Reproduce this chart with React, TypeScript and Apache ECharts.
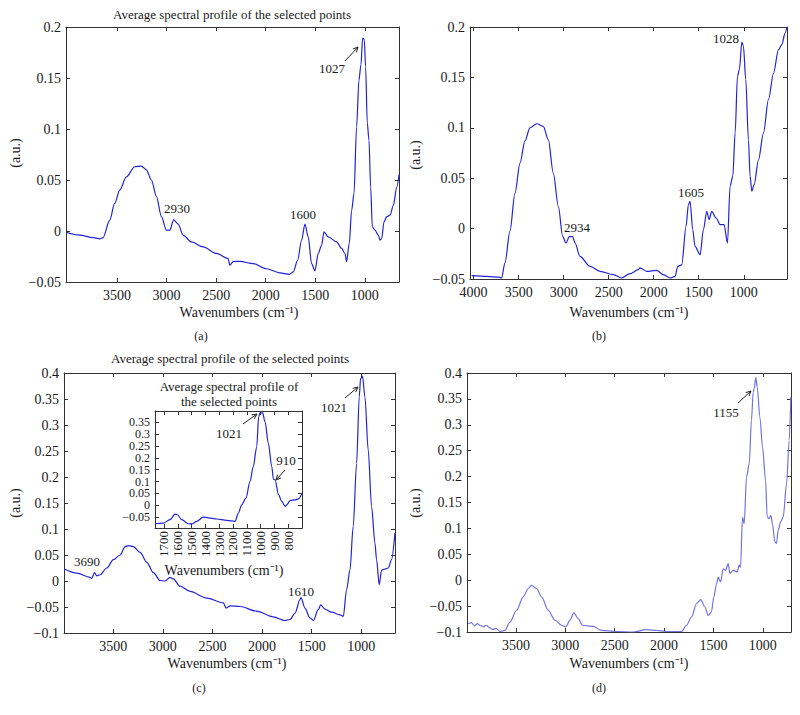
import React, { useEffect, useRef } from "react";
import * as echarts from "echarts";

// ---------- data (wavenumber in cm^-1, absorbance in a.u.) ----------
const A_WN = [4008,3877,3742,3675,3641,3574,3524,3473,3406,3322,3254,3204,3153,3103,3052,3002,2968,2928,2884,2833,2749,2631,2497,2379,2362,2328,2261,2126,1992,1857,1763,1722,1678,1638,1604,1571,1537,1503,1470,1436,1412,1369,1285,1234,1200,1184,1157,1133,1109,1083,1059,1039,1022,1005,992,975,958,941,924,897,864,847,830,806,779,746,712,678,655];
const A_VAL = [-0.0015,-0.004,-0.0064,-0.0077,-0.0064,0.0106,0.027,0.040,0.053,0.063,0.0637,0.060,0.050,0.034,0.014,0.0008,0.0008,0.011,0.0067,-0.004,-0.0107,-0.0156,-0.022,-0.027,-0.0336,-0.030,-0.0297,-0.032,-0.037,-0.041,-0.0425,-0.040,-0.0287,-0.009,0.0067,-0.0058,-0.032,-0.039,-0.022,-0.014,-0.0009,-0.0058,-0.0107,-0.017,-0.022,-0.030,-0.012,0.020,0.037,0.102,0.148,0.163,0.189,0.1875,0.161,0.106,0.089,0.043,0.004,0.0008,-0.004,-0.009,-0.0074,0.009,0.014,0.0155,0.025,0.043,0.055];

const B_WN = [4022,3856,3707,3689,3652,3596,3541,3485,3430,3374,3300,3226,3170,3115,3059,3011,2974,2937,2900,2874,2819,2707,2596,2448,2356,2263,2170,2152,2078,1967,1893,1819,1763,1733,1689,1641,1615,1596,1567,1541,1485,1448,1411,1385,1356,1307,1263,1219,1181,1152,1122,1096,1070,1048,1022,1004,978,948,930,911,885,837,781,726,670,615,578,541,522];
const B_VAL = [-0.0467,-0.0474,-0.0483,-0.049,-0.034,-0.0023,0.035,0.065,0.087,0.100,0.104,0.1015,0.088,0.055,0.022,-0.0077,-0.0143,-0.008,-0.008,-0.0143,-0.0275,-0.0374,-0.0424,-0.0457,-0.049,-0.0447,-0.0407,-0.039,-0.0424,-0.0414,-0.0457,-0.049,-0.0474,-0.0374,-0.036,0.0023,0.0237,0.027,-0.001,-0.0176,-0.0259,-0.001,0.0171,0.009,0.017,0.0105,0.004,0.004,-0.0143,0.042,0.052,0.095,0.151,0.158,0.185,0.181,0.148,0.088,0.052,0.037,0.0436,0.068,0.095,0.128,0.154,0.1775,0.1825,0.194,0.2];

const C_WN = [3993,3866,3732,3715,3688,3664,3631,3564,3497,3430,3379,3346,3295,3228,3161,3094,3027,2977,2926,2893,2826,2725,2557,2389,2362,2322,2221,2054,1886,1768,1718,1668,1617,1607,1567,1517,1483,1433,1409,1366,1299,1215,1181,1148,1114,1081,1047,1020,1007,987,963,930,896,862,846,819,795,762,728,695,661];
const C_VAL = [0.023,0.015,0.007,0.005,0.016,0.010,0.012,0.025,0.041,0.050,0.066,0.068,0.066,0.055,0.036,0.016,0.001,0.000,0.007,0.004,-0.010,-0.020,-0.033,-0.042,-0.052,-0.048,-0.049,-0.058,-0.069,-0.076,-0.074,-0.062,-0.036,-0.032,-0.052,-0.071,-0.076,-0.055,-0.046,-0.054,-0.060,-0.065,-0.068,-0.017,0.021,0.105,0.226,0.354,0.389,0.394,0.354,0.252,0.143,0.073,0.041,-0.007,0.021,0.023,0.025,0.041,0.092];

const INSET_WN = [1765,1705,1656,1620,1603,1571,1523,1499,1463,1415,1379,1318,1245,1185,1161,1137,1106,1077,1053,1028,1014,1004,985,968,944,919,907,895,870,846,822,810,786,750,726,700];
const INSET_VAL = [-0.078,-0.075,-0.061,-0.037,-0.040,-0.061,-0.078,-0.079,-0.068,-0.050,-0.053,-0.058,-0.064,-0.068,-0.033,0.002,0.030,0.100,0.163,0.247,0.374,0.390,0.390,0.353,0.262,0.163,0.110,0.107,0.044,0.016,-0.005,0.002,0.020,0.023,0.027,0.051];

const D_WN = [3982,3950,3920,3890,3864,3830,3800,3763,3730,3700,3662,3611,3561,3493,3426,3375,3341,3291,3240,3173,3105,3038,2994,2953,2913,2869,2825,2717,2633,2481,2312,2177,2076,1975,1823,1773,1722,1671,1628,1587,1553,1520,1496,1469,1452,1428,1402,1378,1351,1334,1300,1260,1240,1226,1206,1189,1165,1138,1115,1098,1088,1071,1057,1030,1003,973,956,936,919,902,879,862,845,821,794,760,733,717];
const D_VAL = [-0.084,-0.082,-0.088,-0.084,-0.087,-0.090,-0.087,-0.092,-0.095,-0.093,-0.099,-0.097,-0.081,-0.058,-0.032,-0.016,-0.010,-0.016,-0.032,-0.058,-0.077,-0.087,-0.090,-0.077,-0.063,-0.074,-0.087,-0.089,-0.097,-0.099,-0.100,-0.0955,-0.097,-0.099,-0.099,-0.087,-0.071,-0.045,-0.0376,-0.052,-0.068,-0.061,-0.032,-0.007,0.006,-0.0035,0.022,0.019,0.032,0.013,0.019,0.016,0.029,0.025,0.122,0.109,0.199,0.225,0.309,0.363,0.370,0.391,0.373,0.315,0.257,0.194,0.122,0.119,0.125,0.109,0.074,0.071,0.096,0.112,0.122,0.186,0.270,0.354];

// tick labels
const MAIN_X_TICKS = [1000, 1500, 2000, 2500, 3000, 3500];
const B_X_TICKS = [1000, 1500, 2000, 2500, 3000, 3500, 4000];
const INSET_X_TICKS = [800, 900, 1000, 1100, 1200, 1300, 1400, 1500, 1600, 1700];
const INSET_Y_TICKS = [-0.05, 0, 0.05, 0.1, 0.15, 0.2, 0.25, 0.3, 0.35];

const TITLE = "Average spectral profile of the selected points";
const X_NAME = "Wavenumbers (cm\u207B\u00B9)";
const Y_NAME = "(a.u.)";

const FONT = "'Liberation Serif', 'Times New Roman', serif";
const AXIS_COLOR = "#333";
const TEXT_COLOR = "#1a1a1a";
const BLUE = "#2323d6";
const LIGHT_BLUE = "#7373e2";

const zip = (xs: number[], ys: number[]) => xs.map((x, i) => [x, ys[i]]);

const fmtY = (v: number) => String(+v.toFixed(2)).replace("-", "\u2212");
const fmtX = (v: number) => String(Math.round(v));

function makeAxes(
  gridIndex: number,
  xMin: number,
  xMax: number,
  xTicks: number[],
  yMin: number,
  yMax: number,
  yTicks: number[] | null,
  opts: { inset?: boolean; z?: number } = {}
) {
  const z = opts.z ?? 2;
  const lineStyle = { color: AXIS_COLOR, width: 1 };
  const tick = { show: true, inside: true, length: 4, lineStyle };
  const fs = opts.inset ? 13 : 14;
  const label = { fontFamily: FONT, fontSize: fs, color: TEXT_COLOR, hideOverlap: false };
  const xBase = {
    type: "value",
    gridIndex,
    min: xMin,
    max: xMax,
    inverse: true,
    splitLine: { show: false },
    axisLine: { show: true, onZero: false, lineStyle },
    z,
  };
  const yBase: any = {
    type: "value",
    gridIndex,
    min: yMin,
    max: yMax,
    splitLine: { show: false },
    axisLine: { show: true, onZero: false, lineStyle },
    z,
  };
  if (yTicks === null) yBase.interval = 0.05;
  const xAxes = [
    {
      ...xBase,
      position: "bottom",
      axisTick: { ...tick, customValues: xTicks },
      axisLabel: {
        ...label,
        customValues: xTicks,
        formatter: fmtX,
        showMinLabel: true,
        showMaxLabel: true,
        margin: opts.inset ? 3 : 6,
        rotate: opts.inset ? 90 : 0,
      },
    },
    {
      ...xBase,
      position: "top",
      axisTick: { ...tick, customValues: xTicks },
      axisLabel: { show: false, customValues: xTicks },
    },
  ];
  const yLabel: any = {
    ...label,
    margin: 5,
    formatter: fmtY,
    showMinLabel: true,
    showMaxLabel: true,
  };
  if (yTicks) {
    yLabel.customValues = yTicks;
    yLabel.fontSize = 12;
    yLabel.lineHeight = 11;
  }
  const yAxes = [
    {
      ...yBase,
      position: "left",
      axisTick: yTicks ? { ...tick, customValues: yTicks } : tick,
      axisLabel: yLabel,
    },
    {
      ...yBase,
      position: "right",
      axisTick: yTicks ? { ...tick, customValues: yTicks } : tick,
      axisLabel: yTicks ? { show: false, customValues: yTicks } : { show: false },
    },
  ];
  return { xAxes, yAxes };
}

function txt(x: number, y: number, text: string, size = 13, rotate = false): any {
  return {
    type: "text",
    x,
    y,
    rotation: rotate ? Math.PI / 2 : 0,
    z: 50,
    style: {
      text,
      fontFamily: FONT,
      fontSize: size,
      fill: TEXT_COLOR,
      align: "center",
      verticalAlign: "middle",
      textAlign: "center",
      textVerticalAlign: "middle",
    },
  };
}

function arrow(x1: number, y1: number, x2: number, y2: number): any[] {
  const ang = Math.atan2(y2 - y1, x2 - x1);
  const L = 5.5;
  const a1 = ang + Math.PI - 0.45;
  const a2 = ang + Math.PI + 0.45;
  return [
    {
      type: "line",
      z: 50,
      shape: { x1, y1, x2, y2 },
      style: { stroke: "#222", lineWidth: 1 },
    },
    {
      type: "polyline",
      z: 50,
      shape: {
        points: [
          [x2 + L * Math.cos(a1), y2 + L * Math.sin(a1)],
          [x2, y2],
          [x2 + L * Math.cos(a2), y2 + L * Math.sin(a2)],
        ],
      },
      style: { stroke: "#222", lineWidth: 1, fill: null },
    },
  ];
}

export default function App() {
  const ref = useRef<HTMLDivElement>(null);

  useEffect(() => {
    if (!ref.current) return;
    const chart = echarts.init(ref.current, null, { renderer: "svg" });

    const pa = makeAxes(0, 655, 4015, MAIN_X_TICKS, -0.05, 0.2, null);
    const pb = makeAxes(1, 520, 4040, B_X_TICKS, -0.05, 0.2, null);
    const pc = makeAxes(2, 660, 3995, MAIN_X_TICKS, -0.1, 0.4, null);
    const pd = makeAxes(3, 715, 3995, MAIN_X_TICKS, -0.1, 0.4, null);
    const pi = makeAxes(4, 700, 1765, INSET_X_TICKS, -0.096, 0.398, INSET_Y_TICKS, {
      inset: true,
      z: 20,
    });
    const panels = [pa, pb, pc, pd, pi];
    const xAxis: any[] = [];
    const yAxis: any[] = [];
    panels.forEach((p) => {
      xAxis.push(...p.xAxes);
      yAxis.push(...p.yAxes);
    });

    const series = (idx: number, data: number[][], color: string, z = 3) => ({
      type: "line",
      xAxisIndex: idx * 2,
      yAxisIndex: idx * 2,
      data,
      showSymbol: false,
      symbol: "none",
      smooth: 0.3,
      smoothMonotone: "x",
      clip: true,
      z,
      lineStyle: { color, width: 1.2 },
      emphasis: { disabled: true },
    });

    const graphic: any[] = [
      // panel (a)
      txt(232, 14, TITLE),
      txt(15, 153, Y_NAME, 14, true),
      txt(239, 312, X_NAME, 14),
      txt(201, 336, "(a)", 12),
      txt(177, 208, "2930"),
      txt(303, 214, "1600"),
      txt(332, 68, "1027"),
      ...arrow(345, 61, 358, 47),
      // panel (b)
      txt(415, 155, Y_NAME, 14, true),
      txt(629, 312, X_NAME, 14),
      txt(599, 336, "(b)", 12),
      txt(577, 227, "2934"),
      txt(691, 192, "1605"),
      txt(726, 38, "1028"),
      // panel (c)
      txt(230, 358, TITLE),
      txt(15, 503, Y_NAME, 14, true),
      txt(227, 663, X_NAME, 14),
      txt(199, 688, "(c)", 12),
      txt(87, 561, "3690"),
      txt(334, 407, "1021"),
      ...arrow(345, 398, 358, 387),
      txt(301, 591, "1610"),
      // inset
      txt(229, 386, "Average spectral profile of"),
      txt(229, 401, "the selected points"),
      txt(224, 570, X_NAME, 14),
      txt(229, 433, "1021"),
      ...arrow(243, 424, 257, 414),
      txt(286, 460, "910"),
      ...arrow(285, 470, 276, 480),
      // panel (d)
      txt(415, 503, Y_NAME, 14, true),
      txt(629, 663, X_NAME, 14),
      txt(599, 688, "(d)", 12),
      txt(726, 412, "1155"),
      ...arrow(738, 403, 751, 391),
    ];

    chart.setOption({
      animation: false,
      backgroundColor: "#ffffff",
      grid: [
        { left: 66, top: 27, width: 333, height: 255, containLabel: false },
        { left: 470, top: 27, width: 317, height: 252, containLabel: false },
        { left: 64, top: 373, width: 331, height: 260, containLabel: false },
        { left: 467, top: 373, width: 324, height: 259, containLabel: false },
        {
          left: 155,
          top: 411,
          width: 147,
          height: 117,
          containLabel: false,
          show: true,
          backgroundColor: "#ffffff",
          borderWidth: 0,
          z: 15,
        },
      ],
      xAxis,
      yAxis,
      series: [
        series(0, zip(A_WN, A_VAL), BLUE),
        series(1, zip(B_WN, B_VAL), BLUE),
        series(2, zip(C_WN, C_VAL), BLUE),
        series(3, zip(D_WN, D_VAL), LIGHT_BLUE),
        series(4, zip(INSET_WN, INSET_VAL), BLUE, 25),
      ],
      graphic,
    });

    return () => chart.dispose();
  }, []);

  return (
    <div
      ref={ref}
      style={{ position: "absolute", left: 0, top: 0, width: 800, height: 715 }}
    />
  );
}
